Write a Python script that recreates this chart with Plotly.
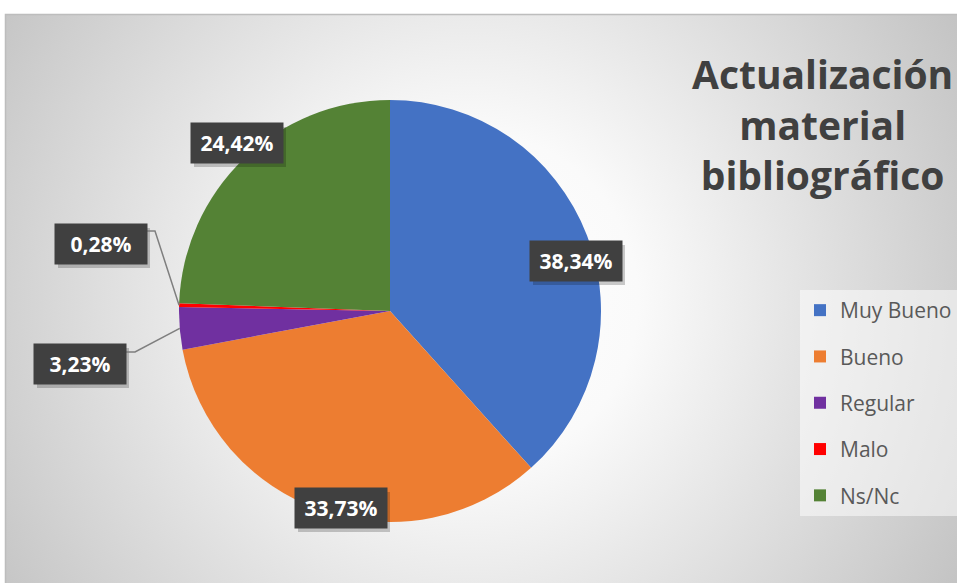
import base64
import math
import plotly.graph_objects as go

W, H = 957, 583

categorias = ['Muy Bueno', 'Bueno', 'Regular', 'Malo', 'Ns/Nc']
porcentajes = [38.34, 33.73, 3.23, 0.28, 24.42]
colores = ['#4472C4', '#ED7D31', '#7030A0', '#FF0000', '#548235']

# pie geometry in pixels (center and radius)
CX, CY, R = 390, 311, 211

# label box centers in pixels, leader line elbow for the small ones
label_pos = {
    'Muy Bueno': (576, 261),
    'Bueno': (341, 508),
    'Regular': (80, 364),
    'Malo': (101, 244),
    'Ns/Nc': (237, 143),
}
leader = {
    'Regular': [(122, 352), (135, 352)],
    'Malo': [(143, 231), (155, 231)],
}
BOX_W, BOX_H = 92, 40


def px(x, y):
    return x / W, 1 - y / H


# radial gradient background as svg image
svg = f'''<svg xmlns="http://www.w3.org/2000/svg" width="{W}" height="{H}">
<defs><radialGradient id="g" gradientUnits="userSpaceOnUse" cx="470" cy="300" r="560">
<stop offset="0" stop-color="#ffffff"/><stop offset="0.3" stop-color="#fafafa"/>
<stop offset="1" stop-color="#c4c4c4"/></radialGradient></defs>
<rect x="0" y="0" width="{W}" height="{H}" fill="#ffffff"/>
<rect x="5" y="14" width="{W - 5}" height="{H - 14}" fill="url(#g)"/>
<path d="M5.5 {H} L5.5 14.5 L{W} 14.5" stroke="#bdbdbd" stroke-width="1.5" fill="none"/>
</svg>'''
bg_uri = 'data:image/svg+xml;base64,' + base64.b64encode(svg.encode()).decode()

fig = go.Figure()

x0, y0 = px(CX - R, CY + R)
x1, y1 = px(CX + R, CY - R)
fig.add_trace(go.Pie(
    labels=categorias,
    values=porcentajes,
    marker=dict(colors=colores, line=dict(width=0)),
    sort=False,
    direction='clockwise',
    rotation=0,
    textinfo='none',
    hoverinfo='label+percent',
    showlegend=False,
    domain=dict(x=[x0, x1], y=[y0, y1]),
))

# legend entries
for cat, col in zip(categorias, colores):
    fig.add_trace(go.Scatter(
        x=[None], y=[None], mode='markers', name=cat, legendgroup=cat,
        marker=dict(symbol='square', size=13, color=col),
    ))

annotations = []
shapes = []
for cat, val in zip(categorias, porcentajes):
    lx, ly = label_pos[cat]
    ax, ay = px(lx, ly)
    texto = f'{val:.2f}'.replace('.', ',') + '%'
    # soft shadow behind the label box
    sx0, sy0 = px(lx - BOX_W / 2 + 3, ly + BOX_H / 2 + 4)
    sx1, sy1 = px(lx + BOX_W / 2 + 3, ly - BOX_H / 2 + 4)
    shapes.append(dict(type='rect', xref='paper', yref='paper', x0=sx0, y0=sy0, x1=sx1, y1=sy1,
                       fillcolor='rgba(0,0,0,0.2)', line=dict(width=0), layer='above'))
    annotations.append(dict(x=ax, y=ay, xref='paper', yref='paper', showarrow=False,
                            xanchor='center', yanchor='middle',
                            width=BOX_W - 10, height=BOX_H - 10, borderpad=5, text=texto,
                            bgcolor='#404040',
                            font=dict(family='Open Sans', size=21, color='white', weight='bold')))

# leader lines to slice edge
cum = 0
for cat, val in zip(categorias, porcentajes):
    mid = (cum + val / 2) / sum(porcentajes) * 2 * math.pi
    cum += val
    if cat in leader:
        ex = CX + R * math.sin(mid)
        ey = CY - R * math.cos(mid)
        pts = leader[cat] + [(ex, ey)]
        path = 'M ' + ' L '.join(f'{px(a, b)[0]:.5f},{px(a, b)[1]:.5f}' for a, b in pts)
        shapes.append(dict(type='path', xref='paper', yref='paper', path=path,
                           line=dict(color='#7f7f7f', width=1.5)))

annotations.append(dict(
    x=px(822, 0)[0], y=px(0, 124)[1], xref='paper', yref='paper', showarrow=False,
    xanchor='center', yanchor='middle',
    text='Actualización<br>material<br>bibliográfico', align='center',
    font=dict(family='Open Sans', size=39, color='#404040', weight='bold'),
))

fig.update_layout(
    width=W, height=H,
    margin=dict(l=0, r=0, t=0, b=0),
    paper_bgcolor='white',
    plot_bgcolor='rgba(0,0,0,0)',
    xaxis=dict(visible=False),
    yaxis=dict(visible=False),
    images=[dict(source=bg_uri, xref='paper', yref='paper', x=0, y=1, sizex=1, sizey=1,
                 sizing='stretch', xanchor='left', yanchor='top', layer='below')],
    annotations=annotations,
    shapes=shapes,
    legend=dict(
        x=px(800, 0)[0], y=px(0, 290)[1], xanchor='left', yanchor='top',
        bgcolor='rgba(255,255,255,0.5)',
        font=dict(family='Open Sans', size=21, color='#595959'),
        tracegroupgap=16, itemsizing='constant',
    ),
)

fig.write_html('out.html', config={'displayModeBar': False},
               post_script="document.body.style.margin='0';")
